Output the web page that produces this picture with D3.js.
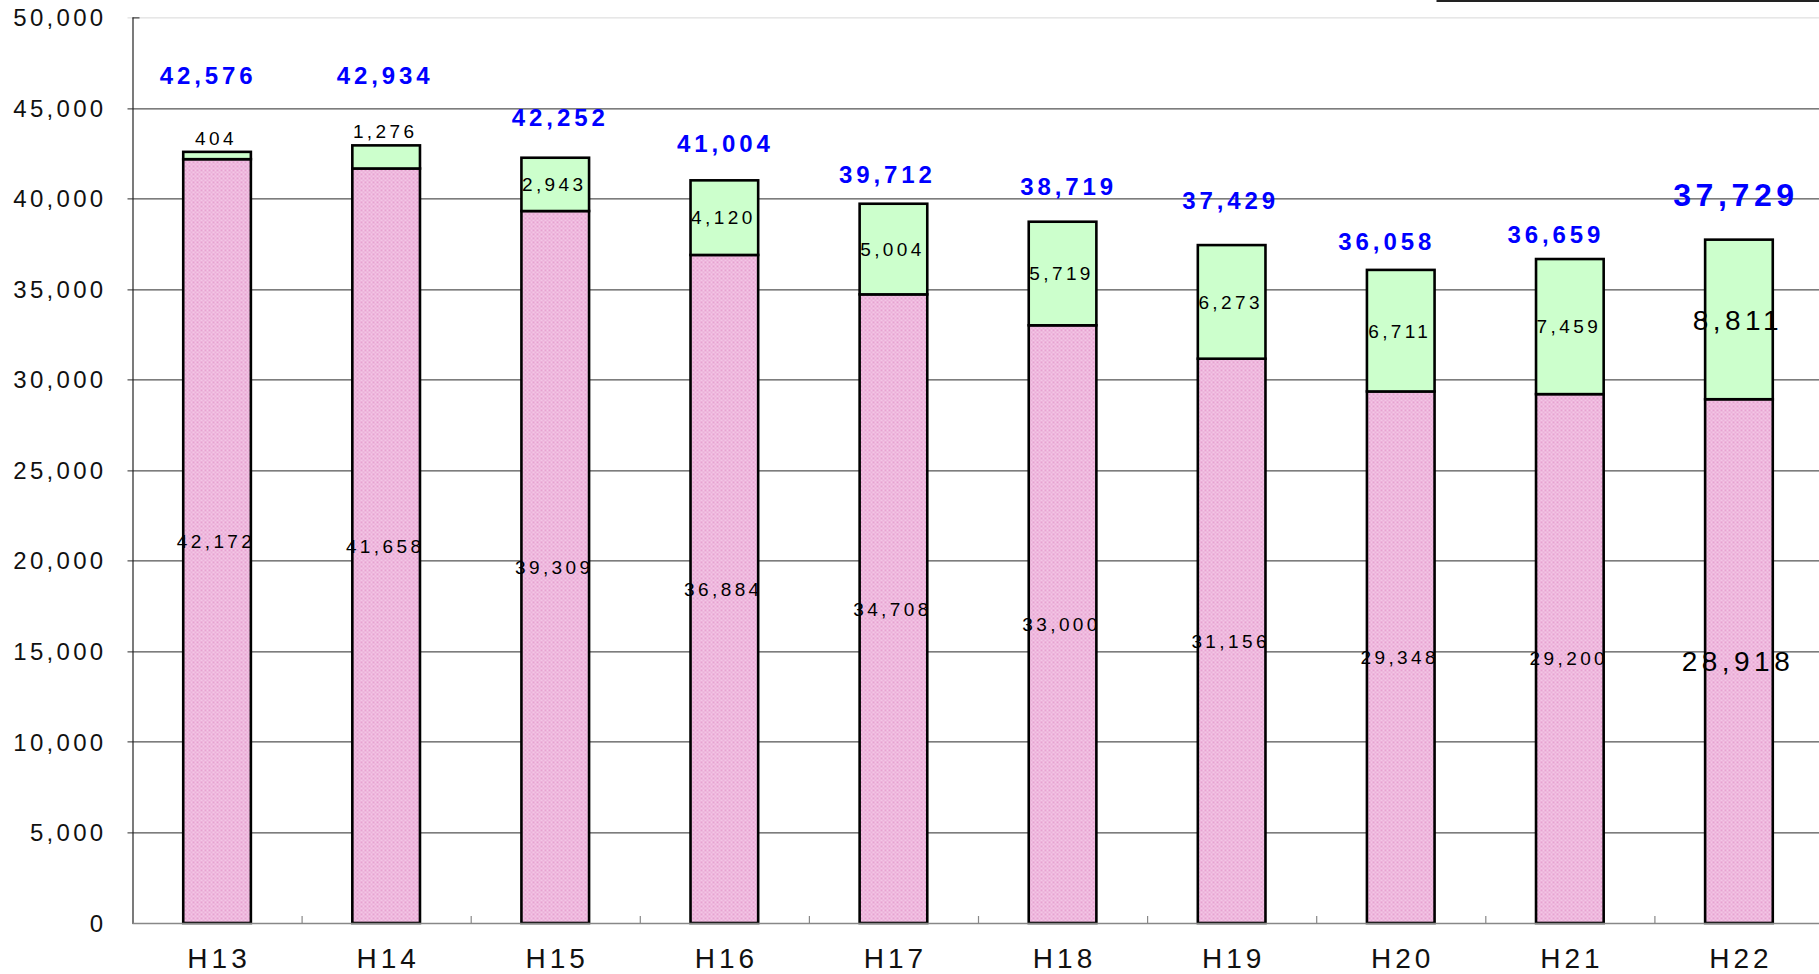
<html>
<head>
<meta charset="utf-8">
<title>Stacked bars H13-H22</title>
<style>
  body { margin: 0; background: #fff; }
  text { font-family: Arial, "Liberation Sans", sans-serif; }
</style>
<script src="https://d3js.org/d3.v7.min.js"></script>
</head>
<body>
<svg width="1819" height="974"></svg>
<script>
// data
var years = ["H13","H14","H15","H16","H17","H18","H19","H20","H21","H22"];
var lower = [42172, 41658, 39309, 36884, 34708, 33000, 31156, 29348, 29200, 28918];
var upper = [404, 1276, 2943, 4120, 5004, 5719, 6273, 6711, 7459, 8811];
var totals = [42576, 42934, 42252, 41004, 39712, 38719, 37429, 36058, 36659, 37729];
var yTicks = [0, 5000, 10000, 15000, 20000, 25000, 30000, 35000, 40000, 45000, 50000];

// hand placement of the blue total labels (px from bar top / bar centre)
var totalLift = [76, 70, 40, 37, 29, 35, 45, 29, 25, 45];
var totalShift = [-9, -1, 5, 1, -6, 6, -1, -14, -14, -3];

var svg = d3.select("svg"),
    margin = {top: 17.4, left: 132.5},
    width = 1691,
    height = 905.6,
    g = svg.append("g").attr("transform", `translate(${margin.left},${margin.top})`);

var defs = svg.append("defs");
var pat = defs.append("pattern")
    .attr("id", "pinkdots")
    .attr("patternUnits", "userSpaceOnUse")
    .attr("width", 4).attr("height", 4);
pat.append("rect").attr("width", 4).attr("height", 4).attr("fill", "#f4c6e6");
pat.append("rect").attr("x", 0).attr("y", 0).attr("width", 2).attr("height", 2).attr("fill", "#e6a2d0");
pat.append("rect").attr("x", 2).attr("y", 2).attr("width", 2).attr("height", 2).attr("fill", "#eab0d8");

var x = d3.scaleBand().domain(years).range([0, width]).paddingInner(0.6).paddingOuter(0.3);
var y = d3.scaleLinear().domain([0, 50000]).range([height, 0]);
var fmt = d3.format(",");

// legend box poking in at the top right
svg.append("rect")
    .attr("x", 1437.5).attr("y", -60).attr("width", 500).attr("height", 61)
    .attr("fill", "#fff").attr("stroke", "#222").attr("stroke-width", 2);

// gridlines
g.selectAll(".grid").data(yTicks.filter(d => d > 0)).enter().append("line")
    .attr("class", "grid")
    .attr("x1", -5).attr("x2", width + 10)
    .attr("y1", d => Math.round(y(d)) + 0.5).attr("y2", d => Math.round(y(d)) + 0.5)
    .attr("stroke", d => d === 50000 ? "#d8d8d8" : "#2a2a2a")
    .attr("stroke-width", 1);
g.append("line").attr("x1", 0).attr("x2", 7)
    .attr("y1", Math.round(y(50000)) + 0.5).attr("y2", Math.round(y(50000)) + 0.5)
    .attr("stroke", "#222");

// y labels
g.selectAll(".ylab").data(yTicks).enter().append("text")
    .attr("x", -26).attr("y", d => y(d)).attr("dy", "0.36em")
    .attr("text-anchor", "end")
    .style("font-size", "24px").style("letter-spacing", "3.3px").attr("fill", "#111")
    .text(d => fmt(d));

// bars
var rows = years.map((k, i) => ({key: k, lo: lower[i], up: upper[i], total: totals[i], i: i}));
var bars = g.selectAll(".bar").data(rows).enter().append("g").attr("class", "bar");

bars.append("rect")
    .attr("x", d => x(d.key)).attr("width", x.bandwidth())
    .attr("y", d => y(d.lo)).attr("height", d => y(0) - y(d.lo))
    .attr("fill", "url(#pinkdots)").attr("stroke", "#000").attr("stroke-width", 2.6);
bars.append("rect")
    .attr("x", d => x(d.key)).attr("width", x.bandwidth())
    .attr("y", d => y(d.lo + d.up)).attr("height", d => y(d.lo) - y(d.lo + d.up))
    .attr("fill", "#ccffcc").attr("stroke", "#000").attr("stroke-width", 2.6);

// axes lines
g.append("line").attr("x1", 0.5).attr("x2", 0.5).attr("y1", 0).attr("y2", height + 1)
    .attr("stroke", "#222").attr("stroke-width", 1.2);
g.append("line").attr("x1", 0).attr("x2", width + 10).attr("y1", height + 0.5).attr("y2", height + 0.5)
    .attr("stroke", "#888").attr("stroke-width", 1.5);
g.selectAll(".xtick").data(d3.range(1, years.length)).enter().append("line")
    .attr("x1", d => d * x.step() + 0.5).attr("x2", d => d * x.step() + 0.5)
    .attr("y1", height).attr("y2", height - 7)
    .attr("stroke", "#888").attr("stroke-width", 1.2);

// x labels
g.selectAll(".xlab").data(years).enter().append("text")
    .attr("x", d => x(d) + x.bandwidth() / 2 + 2).attr("y", height + 45)
    .attr("text-anchor", "middle")
    .style("font-size", "28px").style("letter-spacing", "4px").attr("fill", "#111")
    .text(d => d);

// value labels inside segments
var last = years.length - 1;
bars.append("text")
    .attr("x", d => x(d.key) + x.bandwidth() / 2 - 1)
    .attr("y", d => (y(0) + y(d.lo)) / 2).attr("dy", "0.36em")
    .attr("text-anchor", "middle")
    .style("font-size", d => d.i === last ? "28px" : "19px")
    .style("letter-spacing", d => d.i === last ? "4.5px" : "3.4px")
    .attr("fill", "#000")
    .text(d => fmt(d.lo));
bars.append("text")
    .attr("x", d => x(d.key) + x.bandwidth() / 2 - 1)
    .attr("y", d => {
      var top = y(d.lo + d.up), h = y(d.lo) - top;
      return h < 30 ? top - 14 : top + h / 2;
    })
    .attr("dy", "0.36em")
    .attr("text-anchor", "middle")
    .style("font-size", d => d.i === last ? "28px" : "19px")
    .style("letter-spacing", d => d.i === last ? "4.5px" : "3.4px")
    .attr("fill", "#000")
    .text(d => fmt(d.up));

// blue totals
bars.append("text")
    .attr("x", d => x(d.key) + x.bandwidth() / 2 + totalShift[d.i])
    .attr("y", d => y(d.lo + d.up) - totalLift[d.i])
    .attr("dy", "0.36em")
    .attr("text-anchor", "middle")
    .style("font-size", d => d.i === last ? "32px" : "24px")
    .style("font-weight", "bold")
    .style("letter-spacing", d => d.i === last ? "4.6px" : "3.9px")
    .attr("fill", "#0000ff")
    .text(d => fmt(d.total));
</script>
</body>
</html>
